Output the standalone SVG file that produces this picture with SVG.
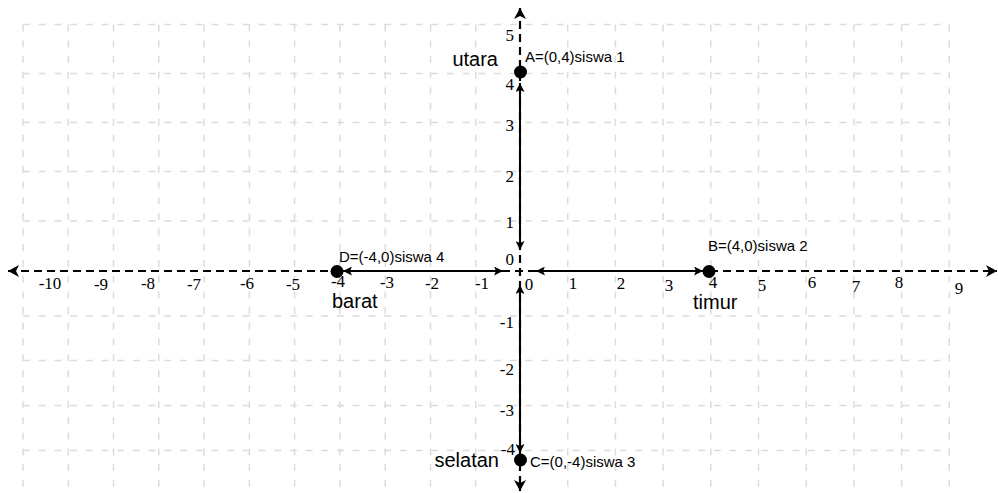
<svg xmlns="http://www.w3.org/2000/svg" width="998" height="493" viewBox="0 0 998 493">
<style>
.grid line{stroke:#dcdcdc;stroke-width:1.5;stroke-dasharray:7 8.7;fill:none}
.axis{stroke:#000;stroke-width:2.2;stroke-dasharray:8 5;fill:none}
.seg{stroke:#000;stroke-width:2;fill:none}
.tick{font-family:"Liberation Serif",serif;font-size:17px;fill:#000}
.tx{text-anchor:middle}
.ty{text-anchor:end}
.lbl{font-family:"Liberation Sans",Arial,sans-serif;font-size:15px;fill:#000}
.dir{font-family:"Liberation Sans",Arial,sans-serif;font-size:20px;fill:#000}
.dot{fill:#000}
</style>
<defs>
<marker id="bigArrow" markerUnits="userSpaceOnUse" markerWidth="12" markerHeight="12" refX="11" refY="6" orient="auto-start-reverse">
<path d="M0,0 L11,6 L0,12 L3,6 z" fill="#000"/>
</marker>
<marker id="smallArrow" markerUnits="userSpaceOnUse" markerWidth="9" markerHeight="9" refX="9" refY="4.5" orient="auto-start-reverse">
<path d="M0,0 L9,4.5 L0,9 L2,4.5 z" fill="#000"/>
</marker>
</defs>
<rect width="998" height="493" fill="#fff"/>
<g class="grid" id="grid">
<line x1="23" y1="24.5" x2="949" y2="24.5"/>
<line x1="23" y1="73.5" x2="949" y2="73.5"/>
<line x1="23" y1="122.5" x2="949" y2="122.5"/>
<line x1="23" y1="171.5" x2="949" y2="171.5"/>
<line x1="23" y1="221" x2="949" y2="221"/>
<line x1="23" y1="316" x2="949" y2="316"/>
<line x1="23" y1="360.5" x2="949" y2="360.5"/>
<line x1="23" y1="405.5" x2="949" y2="405.5"/>
<line x1="23" y1="450.5" x2="949" y2="450.5"/>
<line x1="23" y1="24.5" x2="23" y2="493"/>
<line x1="68.3" y1="24.5" x2="68.3" y2="493"/>
<line x1="113.5" y1="24.5" x2="113.5" y2="493"/>
<line x1="158.8" y1="24.5" x2="158.8" y2="493"/>
<line x1="204.1" y1="24.5" x2="204.1" y2="493"/>
<line x1="249.4" y1="24.5" x2="249.4" y2="493"/>
<line x1="294.6" y1="24.5" x2="294.6" y2="493"/>
<line x1="339.9" y1="24.5" x2="339.9" y2="493"/>
<line x1="385.2" y1="24.5" x2="385.2" y2="493"/>
<line x1="430.5" y1="24.5" x2="430.5" y2="493"/>
<line x1="475.7" y1="24.5" x2="475.7" y2="493"/>
<line x1="567.7" y1="24.5" x2="567.7" y2="493"/>
<line x1="615.4" y1="24.5" x2="615.4" y2="493"/>
<line x1="663.1" y1="24.5" x2="663.1" y2="493"/>
<line x1="710.8" y1="24.5" x2="710.8" y2="493"/>
<line x1="758.5" y1="24.5" x2="758.5" y2="493"/>
<line x1="806.2" y1="24.5" x2="806.2" y2="493"/>
<line x1="853.9" y1="24.5" x2="853.9" y2="493"/>
<line x1="901.6" y1="24.5" x2="901.6" y2="493"/>
<line x1="949.3" y1="24.5" x2="949.3" y2="493"/>
</g>
<g id="axes">
<line class="axis" x1="8" y1="271" x2="997" y2="271" marker-start="url(#bigArrow)" marker-end="url(#bigArrow)"/>
<line class="axis" x1="520" y1="8" x2="520" y2="491" marker-start="url(#bigArrow)" marker-end="url(#bigArrow)"/>
</g>
<g id="ticks" class="tick">
<text class="tx" x="50" y="289">-10</text>
<text class="tx" x="101" y="290">-9</text>
<text class="tx" x="148" y="289">-8</text>
<text class="tx" x="194" y="290">-7</text>
<text class="tx" x="247" y="289">-6</text>
<text class="tx" x="293" y="290">-5</text>
<text class="tx" x="338" y="287">-4</text>
<text class="tx" x="387" y="288">-3</text>
<text class="tx" x="432" y="289">-2</text>
<text class="tx" x="482" y="289">-1</text>
<text class="tx" x="529" y="290">0</text>
<text class="tx" x="573" y="289">1</text>
<text class="tx" x="621" y="289">2</text>
<text class="tx" x="669" y="291">3</text>
<text class="tx" x="713" y="288">4</text>
<text class="tx" x="762" y="291">5</text>
<text class="tx" x="812" y="288">6</text>
<text class="tx" x="856" y="292">7</text>
<text class="tx" x="899" y="288">8</text>
<text class="tx" x="959" y="294">9</text>
<text class="ty" x="514" y="41">5</text>
<text class="ty" x="514" y="90">4</text>
<text class="ty" x="514" y="131">3</text>
<text class="ty" x="514" y="182">2</text>
<text class="ty" x="514" y="228">1</text>
<text class="ty" x="514" y="265">0</text>
<text class="ty" x="514" y="328">-1</text>
<text class="ty" x="514" y="375">-2</text>
<text class="ty" x="514" y="416">-3</text>
<text class="ty" x="515" y="455">-4</text>
</g>
<g id="connectors">
<line class="seg" x1="520" y1="83" x2="520" y2="250" marker-start="url(#smallArrow)" marker-end="url(#smallArrow)"/>
<line class="seg" x1="520" y1="285" x2="520" y2="453" marker-start="url(#smallArrow)" marker-end="url(#smallArrow)"/>
<line class="seg" x1="343" y1="271" x2="503" y2="271" marker-start="url(#smallArrow)" marker-end="url(#smallArrow)"/>
<line class="seg" x1="536" y1="271" x2="703" y2="271" marker-start="url(#smallArrow)" marker-end="url(#smallArrow)"/>
</g>
<g id="node-A">
<circle class="dot" cx="520.5" cy="72" r="6.5"/>
<text class="lbl" x="525" y="62">A=(0,4)siswa 1</text>
<text class="dir" x="498" y="66" text-anchor="end">utara</text>
</g>
<g id="node-B">
<circle class="dot" cx="709" cy="271.5" r="6.5"/>
<text class="lbl" x="708" y="251">B=(4,0)siswa 2</text>
<text class="dir" x="693" y="309">timur</text>
</g>
<g id="node-C">
<circle class="dot" cx="520.5" cy="460" r="6.5"/>
<text class="lbl" x="530" y="467">C=(0,-4)siswa 3</text>
<text class="dir" x="499" y="467" text-anchor="end">selatan</text>
</g>
<g id="node-D">
<circle class="dot" cx="337" cy="271.5" r="6.5"/>
<text class="lbl" x="339" y="262">D=(-4,0)siswa 4</text>
<text class="dir" x="332" y="308">barat</text>
</g>
</svg>
